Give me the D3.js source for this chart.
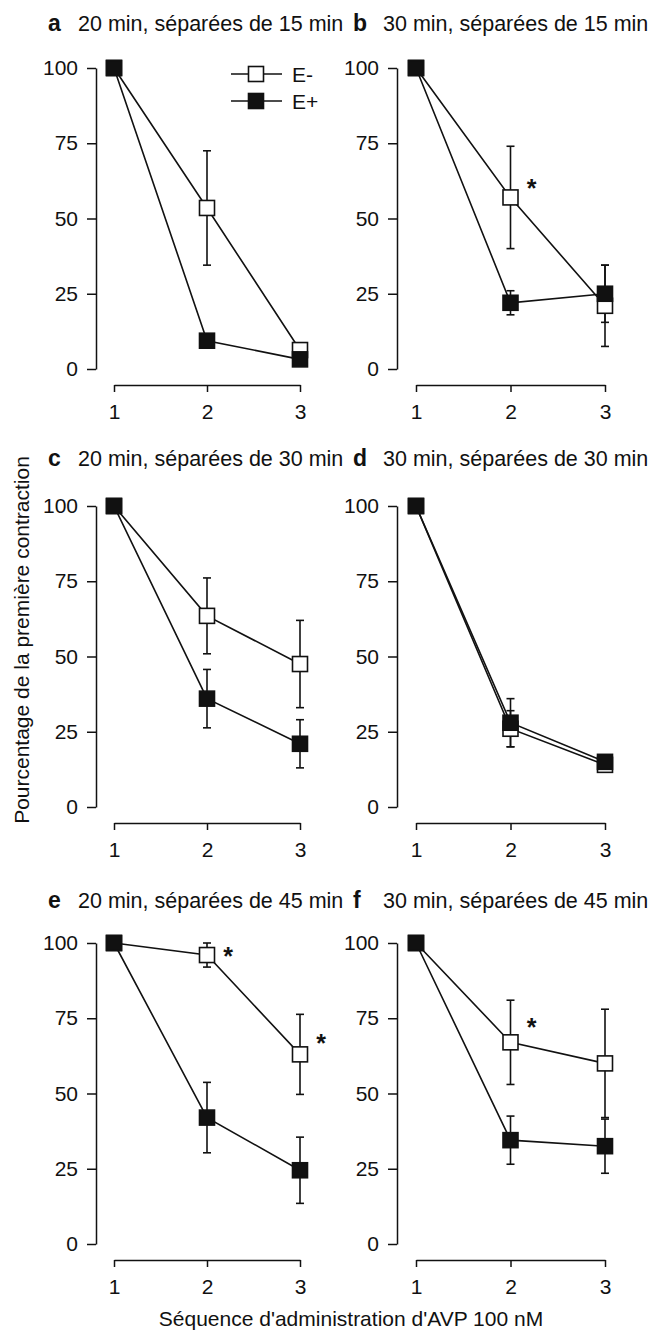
<!DOCTYPE html>
<html>
<head>
<meta charset="utf-8">
<script src="https://cdn.jsdelivr.net/npm/d3@7"></script>
<style>
  body { margin: 0; background: #fff; }
  svg text { font-family: "Liberation Sans", Arial, sans-serif; fill: #111; }
</style>
</head>
<body>
<div id="chart"></div>
<script>
/*global d3 */

// data
var sequences = [1, 2, 3];
var yTicks = [0, 25, 50, 75, 100];
var panelLetters = ["a", "b", "c", "d", "e", "f"];
var panelTitles = [
  "20 min, séparées de 15 min",
  "30 min, séparées de 15 min",
  "20 min, séparées de 30 min",
  "30 min, séparées de 30 min",
  "20 min, séparées de 45 min",
  "30 min, séparées de 45 min"
];
var eMinusMean = [[100, 53.5, 6.3], [100, 57, 21], [100, 63.5, 47.5], [100, 26, 14], [100, 96, 63], [100, 67, 60]];
var eMinusErr  = [[0, 19, 1], [0, 17, 13.5], [0, 12.6, 14.5], [0, 6, 2], [0, 4, 13.3], [0, 14, 18]];
var ePlusMean  = [[100, 9.4, 3.2], [100, 22, 25], [100, 36, 21], [100, 28, 15], [100, 42, 24.5], [100, 34.5, 32.5]];
var ePlusErr   = [[0, 2, 1], [0, 4, 9.5], [0, 9.7, 8], [0, 8, 2], [0, 11.7, 11], [0, 8, 9]];
// asterisks: [panel index, sequence, value where the star sits]
var stars = [[1, 2, 62], [4, 2, 97.5], [4, 3, 68.5], [5, 2, 74]];
var seriesNames = ["E-", "E+"];
var yLabel = "Pourcentage de la première contraction";
var xLabel = "Séquence d'administration d'AVP 100 nM";

var W = 653, H = 1338;
var FONT = 21;
var MARK = 15;

var cols = [
  {axis: 96, x1: 114, x3: 300, titleX: 48},
  {axis: 397, x1: 416, x3: 605, titleX: 353}
];
var rows = [
  {top: 68, bottom: 369, titleY: 31},
  {top: 506, bottom: 807, titleY: 466},
  {top: 943, bottom: 1244, titleY: 908}
];

var svg = d3.select("#chart").append("svg")
  .attr("width", W)
  .attr("height", H);

svg.append("rect").attr("width", W).attr("height", H).attr("fill", "#fff");

function styleAxis(g) {
  g.selectAll("path, line").attr("stroke", "#111").attr("stroke-width", 1.5);
  g.selectAll("text").attr("font-size", FONT).attr("fill", "#111")
    .attr("font-family", "'Liberation Sans', Arial, sans-serif");
}

function drawMarker(g, cx, cy, filled) {
  g.append("rect")
    .attr("x", cx - MARK / 2)
    .attr("y", cy - MARK / 2)
    .attr("width", MARK)
    .attr("height", MARK)
    .attr("fill", filled ? "#111" : "#fff")
    .attr("stroke", "#111")
    .attr("stroke-width", 1.6);
}

panelTitles.forEach(function (title, i) {
  var r = rows[Math.floor(i / 2)], c = cols[i % 2];
  var x = d3.scaleLinear().domain([1, 3]).range([c.x1, c.x3]);
  var y = d3.scaleLinear().domain([0, 100]).range([r.bottom, r.top]);
  var g = svg.append("g").attr("class", "panel-" + panelLetters[i]);

  // title
  g.append("text")
    .attr("x", c.titleX)
    .attr("y", r.titleY)
    .attr("font-size", FONT + 2)
    .attr("font-weight", "bold")
    .text(panelLetters[i]);
  g.append("text")
    .attr("x", c.titleX + 30)
    .attr("y", r.titleY)
    .attr("font-size", FONT + 0.5)
    .text(title);

  // axes
  g.append("g")
    .attr("transform", "translate(" + c.axis + ",0)")
    .call(d3.axisLeft(y).tickValues(yTicks).tickSize(9).tickSizeOuter(0).tickPadding(9))
    .call(styleAxis);
  g.append("g")
    .attr("transform", "translate(0," + (r.bottom + 16) + ")")
    .call(d3.axisBottom(x).tickValues(sequences).tickSize(7).tickSizeOuter(0).tickPadding(12).tickFormat(d3.format("d")))
    .call(styleAxis);

  var series = [
    {mean: eMinusMean[i], err: eMinusErr[i], filled: false},
    {mean: ePlusMean[i], err: ePlusErr[i], filled: true}
  ];

  var line = d3.line()
    .x(function (d, k) { return x(sequences[k]); })
    .y(function (d) { return y(d); });

  series.forEach(function (s) {
    g.append("path")
      .attr("d", line(s.mean))
      .attr("fill", "none")
      .attr("stroke", "#111")
      .attr("stroke-width", 1.6);
  });

  series.forEach(function (s) {
    s.mean.forEach(function (m, k) {
      var e = s.err[k];
      if (!e) return;
      var cx = x(sequences[k]);
      var bar = g.append("g").attr("stroke", "#111").attr("stroke-width", 1.6);
      bar.append("line").attr("x1", cx).attr("x2", cx).attr("y1", y(m - e)).attr("y2", y(m + e));
      bar.append("line").attr("x1", cx - 4).attr("x2", cx + 4).attr("y1", y(m + e)).attr("y2", y(m + e));
      bar.append("line").attr("x1", cx - 4).attr("x2", cx + 4).attr("y1", y(m - e)).attr("y2", y(m - e));
    });
  });

  series.forEach(function (s) {
    s.mean.forEach(function (m, k) {
      drawMarker(g, x(sequences[k]), y(m), s.filled);
    });
  });

  stars.filter(function (st) { return st[0] === i; }).forEach(function (st) {
    g.append("text")
      .attr("x", x(st[1]) + 21)
      .attr("y", y(st[2]))
      .attr("dy", "0.57em")
      .attr("text-anchor", "middle")
      .attr("font-size", 25)
      .attr("font-weight", "bold")
      .text("*");
  });

  // legend lives in panel a
  if (i === 0) {
    seriesNames.forEach(function (name, k) {
      var ly = 74 + k * 27;
      g.append("line")
        .attr("x1", 231).attr("x2", 282)
        .attr("y1", ly).attr("y2", ly)
        .attr("stroke", "#111").attr("stroke-width", 1.6);
      drawMarker(g, 256, ly, k === 1);
      g.append("text")
        .attr("x", 292)
        .attr("y", ly + 8)
        .attr("font-size", FONT)
        .text(name);
    });
  }
});

// shared axis titles
svg.append("text")
  .attr("transform", "translate(29,640) rotate(-90)")
  .attr("text-anchor", "middle")
  .attr("font-size", FONT)
  .text(yLabel);

svg.append("text")
  .attr("x", 351)
  .attr("y", 1326)
  .attr("text-anchor", "middle")
  .attr("font-size", FONT)
  .text(xLabel);
</script>
</body>
</html>
